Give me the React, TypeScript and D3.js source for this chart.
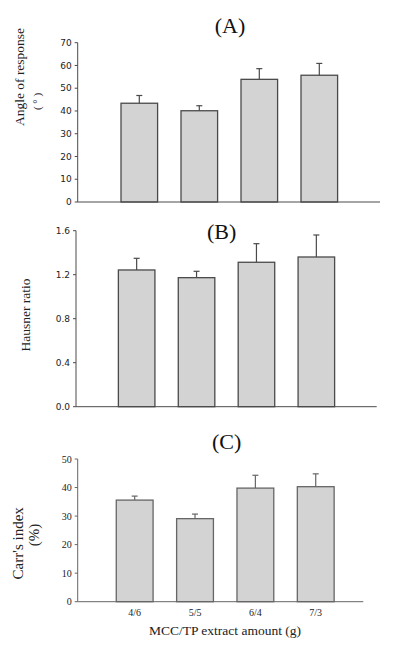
import React from 'react';
import * as d3 from 'd3';

// x categories shared by the three panels
const categories = ['4/6', '5/5', '6/4', '7/3'];

// (A) angle of response
const angleValues = [43.4, 40.1, 53.9, 55.7];
const angleErrors = [3.4, 2.2, 4.7, 5.2];
const angleTicks = [0, 10, 20, 30, 40, 50, 60, 70];

// (B) Hausner ratio
const hausnerValues = [1.243, 1.173, 1.313, 1.361];
const hausnerErrors = [0.106, 0.058, 0.169, 0.2];
const hausnerTicks = [0, 0.4, 0.8, 1.2, 1.6];

// (C) Carr's index
const carrValues = [35.6, 29.1, 39.8, 40.3];
const carrErrors = [1.4, 1.6, 4.5, 4.5];
const carrTicks = [0, 10, 20, 30, 40, 50];

interface PanelProps {
  values: number[];
  errors: number[];
  ticks: number[];
  yMax: number;
  yTop: number;
  yBottom: number;
  axisLeft: number;
  axisRight: number;
  bandRange: [number, number];
  tickFormat: (v: number) => string;
  tickFont: string;
  tickSize: number;
  color: string;
  showXLabels?: boolean;
}

const Panel: React.FC<PanelProps> = ({
  values, errors, ticks, yMax, yTop, yBottom, axisLeft, axisRight, bandRange,
  tickFormat, tickFont, tickSize, color, showXLabels,
}) => {
  const y = d3.scaleLinear().domain([0, yMax]).range([yBottom, yTop]);
  const x = d3.scaleBand<string>()
    .domain(categories)
    .range(bandRange)
    .paddingInner(0.39)
    .paddingOuter(0.195);
  const bw = x.bandwidth();

  return (
    <g>
      {/* bars */}
      {categories.map((c, i) => (
        <rect
          key={c}
          x={x(c)!}
          y={y(values[i])}
          width={bw}
          height={y(0) - y(values[i])}
          fill="#d3d3d3"
          stroke={color}
          strokeWidth={1.3}
        />
      ))}
      {/* error bars, upper half only */}
      {categories.map((c, i) => {
        const cx = x(c)! + bw / 2;
        const top = y(values[i] + errors[i]);
        return (
          <g key={'e' + c} stroke={color} strokeWidth={1.2}>
            <line x1={cx} x2={cx} y1={y(values[i])} y2={top} />
            <line x1={cx - 3} x2={cx + 3} y1={top} y2={top} />
          </g>
        );
      })}
      {/* axes */}
      <line x1={axisLeft} x2={axisLeft} y1={yTop} y2={yBottom} stroke={color} strokeWidth={1} />
      <line x1={axisLeft} x2={axisRight} y1={yBottom} y2={yBottom} stroke={color} strokeWidth={1} />
      {ticks.map(t => (
        <g key={t}>
          <line x1={axisLeft - 3} x2={axisLeft} y1={y(t)} y2={y(t)} stroke={color} strokeWidth={1} />
          <text
            x={axisLeft - 6}
            y={y(t)}
            dy="0.35em"
            textAnchor="end"
            fontFamily={tickFont}
            fontSize={tickSize}
            fill="#222"
          >
            {tickFormat(t)}
          </text>
        </g>
      ))}
      {showXLabels && categories.map(c => (
        <text
          key={'x' + c}
          x={x(c)! + bw / 2}
          y={yBottom + 14.5}
          textAnchor="middle"
          fontFamily="'Liberation Serif', serif"
          fontSize={10}
          fill="#222"
        >
          {c}
        </text>
      ))}
    </g>
  );
};

const serif = "'Liberation Serif', 'Times New Roman', serif";
const sans = "'DejaVu Sans', Verdana, sans-serif";

const VLabel: React.FC<{ x: number; y: number; size: number; text: string }> = ({ x, y, size, text }) => (
  <text
    transform={`translate(${x},${y}) rotate(-90)`}
    textAnchor="middle"
    dy="0.35em"
    fontFamily={serif}
    fontSize={size}
    fill="#222"
  >
    {text}
  </text>
);

export default function App() {
  return (
    <svg
      width={393}
      height={647}
      style={{ position: 'absolute', left: 0, top: 0, background: '#fff' }}
    >
      {/* (A) */}
      <text x={230} y={25.7} dy="0.35em" textAnchor="middle" fontFamily={serif} fontSize={22} fill="#111">(A)</text>
      <VLabel x={19} y={77} size={13.5} text="Angle of response" />
      <VLabel x={37.5} y={101.5} size={11} text="( ° )" />
      <Panel
        values={angleValues}
        errors={angleErrors}
        ticks={angleTicks}
        yMax={70}
        yTop={42.7}
        yBottom={202}
        axisLeft={77.7}
        axisRight={380}
        bandRange={[109.3, 349.3]}
        tickFormat={d3.format('d')}
        tickFont={sans}
        tickSize={9}
        color="#4a4a4a"
      />

      {/* (B) */}
      <text x={221.7} y={231.7} dy="0.35em" textAnchor="middle" fontFamily={serif} fontSize={22} fill="#111">(B)</text>
      <VLabel x={25} y={315} size={13.5} text="Hausner ratio" />
      <Panel
        values={hausnerValues}
        errors={hausnerErrors}
        ticks={hausnerTicks}
        yMax={1.6}
        yTop={230.7}
        yBottom={406.7}
        axisLeft={76}
        axisRight={376.7}
        bandRange={[106.7, 346.3]}
        tickFormat={d3.format('.1f')}
        tickFont={sans}
        tickSize={9}
        color="#4a4a4a"
      />

      {/* (C) */}
      <text x={226.7} y={441.7} dy="0.35em" textAnchor="middle" fontFamily={serif} fontSize={22} fill="#111">(C)</text>
      <VLabel x={17.5} y={543.3} size={15} text="Carr's index" />
      <VLabel x={33.3} y={535} size={15} text="(%)" />
      <Panel
        values={carrValues}
        errors={carrErrors}
        ticks={carrTicks}
        yMax={50}
        yTop={459}
        yBottom={601.7}
        axisLeft={77.7}
        axisRight={363.3}
        bandRange={[104.5, 345.9]}
        tickFormat={d3.format('d')}
        tickFont={serif}
        tickSize={10}
        color="#666"
        showXLabels
      />
      <text x={225} y={635} textAnchor="middle" fontFamily={serif} fontSize={13.5} fill="#222">
        MCC/TP extract amount (g)
      </text>
    </svg>
  );
}
